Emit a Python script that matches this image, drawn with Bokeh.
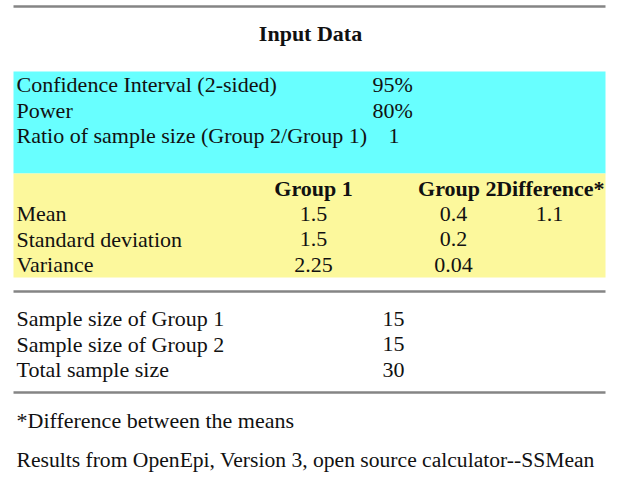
from bokeh.plotting import figure
from bokeh.models import Range1d, ColumnDataSource
from bokeh.core.properties import value
from bokeh.embed import file_html
from bokeh.resources import INLINE

# ---- data ----
title_text = "Input Data"
setting_labels = ["Confidence Interval (2-sided)", "Power", "Ratio of sample size (Group 2/Group 1)"]
setting_values = ["95%", "80%", "1"]

group_headers = ["Group 1", "Group 2", "Difference*"]
stat_labels = ["Mean", "Standard deviation", "Variance"]
group1_values = ["1.5", "1.5", "2.25"]
group2_values = ["0.4", "0.2", "0.04"]
difference_values = ["1.1", "", ""]

result_labels = ["Sample size of Group 1", "Sample size of Group 2", "Total sample size"]
result_values = ["15", "15", "30"]

footnote = "*Difference between the means"
source_note = "Results from OpenEpi, Version 3, open source calculator--SSMean"

# ---- layout ----
FONT = value("Liberation Serif")
FS = "22px"
X0, X1 = 13, 605
ROW = 25.5

p = figure(width=612, height=474, x_range=Range1d(0, 612), y_range=Range1d(474, 0),
           output_backend="svg", toolbar_location=None, min_border=0)
p.axis.visible = False
p.grid.visible = False
p.outline_line_color = None
p.background_fill_color = "white"
p.border_fill_color = "white"

# boxes
p.quad(left=[X0], right=[X1], top=[71], bottom=[173], fill_color="#68ffff", line_color=None)
p.quad(left=[X0], right=[X1], top=[173], bottom=[277], fill_color="#fcf89c", line_color=None)

# rules
for yy in [6, 291, 392]:
    p.segment(x0=[X0], x1=[X1], y0=[yy], y1=[yy], line_color="#858585", line_width=2.5)

def txt(xs, ys, texts, align="left", bold=False, size=FS, baseline="middle"):
    src = ColumnDataSource(dict(x=xs, y=ys, t=texts))
    p.text(x="x", y="y", text="t", source=src, text_font=FONT, text_font_size=size,
           text_align=align, text_baseline=baseline, text_color="#111111",
           text_font_style="bold" if bold else "normal")

# title
txt([310], [33], [title_text], align="center", bold=True)

# settings block
ys = [84 + i * ROW for i in range(len(setting_labels))]
txt([16] * len(setting_labels), ys, setting_labels)
txt([372, 372, 388], ys, setting_values)

# group block
txt([313], [188], [group_headers[0]], align="center", bold=True)
txt([496], [188], [group_headers[1]], align="right", bold=True)
txt([604], [188], [group_headers[2]], align="right", bold=True)
ys = [213 + i * ROW for i in range(len(stat_labels))]
txt([16] * 3, ys, stat_labels)
txt([313] * 3, ys, group1_values, align="center")
txt([453] * 3, ys, group2_values, align="center")
txt([549] * 3, ys, difference_values, align="center")

# results block
ys = [318 + i * ROW for i in range(len(result_labels))]
txt([16] * 3, ys, result_labels)
txt([382] * 3, ys, result_values)

txt([16], [420], [footnote])
txt([16], [471], [source_note], size="21.6px", baseline="bottom")

open("out.html", "w").write(file_html(p, INLINE))
